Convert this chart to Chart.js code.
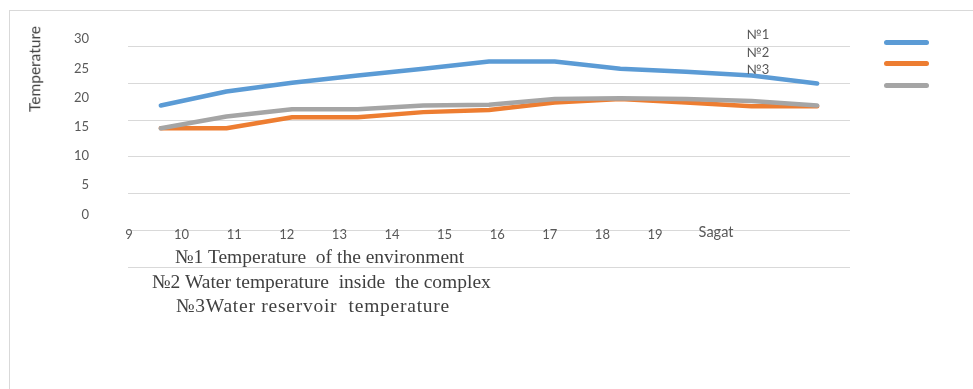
<!DOCTYPE html>
<html>
<head>
<meta charset="utf-8">
<script src="https://cdn.jsdelivr.net/npm/chart.js@4/dist/chart.umd.min.js"></script>
<style>
  body { margin: 0; background: #fff; }
  #wrap { position: relative; width: 973px; height: 389px; overflow: hidden; }
  #frame { position: absolute; left: 9px; top: 10px; width: 980px; height: 400px; border-left: 1px solid #d9d9d9; border-top: 1px solid #d9d9d9; }
  .sans { position: absolute; font-family: Lato, 'Noto Sans', sans-serif; color: #595959; white-space: pre; line-height: 1; }
  .serif { position: absolute; font-family: 'Liberation Serif', 'DejaVu Serif', serif; font-size: 19.5px; line-height: 19.5px; color: #404040; white-space: pre; }
  .swatch { position: absolute; left: 884px; width: 45px; height: 5px; border-radius: 2.5px; }
  #ytitle { left: 35px; top: 69px; font-size: 15.5px; color: #404040; transform: translate(-50%, -50%) rotate(-90deg); }
  canvas { position: absolute; left: 0; top: 0; }
</style>
</head>
<body>
<div id="wrap">
  <div id="frame"></div>
  <canvas id="chart" width="973" height="389"></canvas>
  <div id="ytitle" class="sans">Temperature</div>
  <div id="tags"></div>
  <div id="legend"></div>
  <div id="notes"></div>
</div>
<script>
// hours on the x axis
const hours = [9, 10, 11, 12, 13, 14, 15, 16, 17, 18, 19]
const xTitle = 'Sagat'
const yTicks = [0, 5, 10, 15, 20, 25, 30]

// temperatures per hour
const tempEnvironment = [22.0, 23.9, 25.1, 26.1, 27.0, 28.0, 28.0, 27.0, 26.6, 26.1, 25.0]
const tempInside = [18.9, 18.9, 20.4, 20.4, 21.1, 21.4, 22.4, 22.9, 22.4, 21.9, 21.9]
const tempReservoir = [18.9, 20.5, 21.5, 21.5, 22.0, 22.1, 22.9, 23.0, 22.9, 22.6, 22.0]

const seriesTags = ['№1', '№2', '№3']
const seriesNames = [
  '№1 Temperature  of the environment',
  '№2 Water temperature  inside  the complex',
  '№3Water reservoir  temperature'
]
const seriesColors = ['#5b9bd5', '#ed7d31', '#a5a5a5']

const tickFont = 'Lato, "Noto Sans", sans-serif'

const line = (data, i) => ({
  label: seriesTags[i],
  data,
  borderColor: seriesColors[i],
  backgroundColor: seriesColors[i],
  borderWidth: 4.5,
  borderCapStyle: 'round',
  borderJoinStyle: 'round',
  pointRadius: 0,
  tension: 0,
  fill: false,
  order: 3 - i,
  xAxisID: 'x',
  yAxisID: 'y'
})

const chart = new Chart(document.getElementById('chart'), {
  type: 'line',
  data: {
    labels: hours.map(String),
    datasets: [line(tempEnvironment, 0), line(tempInside, 1), line(tempReservoir, 2)]
  },
  options: {
    responsive: false,
    devicePixelRatio: 1,
    animation: false,
    layout: { padding: { left: 0, top: 45, right: 123, bottom: 122 } },
    plugins: { legend: { display: false }, title: { display: false }, tooltip: { enabled: false } },
    scales: {
      x: { type: 'category', offset: true, display: false },
      x2: {
        type: 'linear',
        position: { y: 5 },
        min: 8.981,
        max: 22.707,
        afterBuildTicks: scale => {
          scale.ticks = hours.map(v => ({ value: v })).concat([{ value: 20.16 }])
        },
        ticks: {
          autoSkip: false,
          maxRotation: 0,
          padding: -3.5,
          color: '#595959',
          font: ctx => ctx.index === hours.length
            ? { family: tickFont, size: 14.5, lineHeight: 0.7 }
            : { family: tickFont, size: 13 },
          callback: (v, i) => i < hours.length ? String(hours[i]) : xTitle
        },
        grid: { display: false, drawTicks: false },
        border: { display: false }
      },
      y: {
        type: 'linear',
        position: 'left',
        min: 0,
        max: 30,
        ticks: { stepSize: 5, display: false },
        grid: { color: '#d9d9d9', lineWidth: 1, drawTicks: false },
        border: { display: false },
        afterFit: scale => { scale.width = 0 }
      },
      yL: {
        type: 'linear',
        position: 'left',
        min: -9.0,
        max: 28.69,
        afterBuildTicks: scale => {
          scale.ticks = yTicks.map(v => ({ value: v }))
        },
        ticks: { autoSkip: false, padding: 39, color: '#595959', font: { family: tickFont, size: 13 } },
        grid: { display: false, drawTicks: false },
        border: { display: false },
        afterFit: scale => { scale.width = 128 }
      }
    }
  }
})

// series tags near the top right
const tagTops = [34, 52, 69]
document.getElementById('tags').innerHTML = seriesTags.map((t, i) =>
  `<div class="sans" style="left:758px;top:${tagTops[i]}px;font-size:13px;transform:translate(-50%,-50%)">${t}</div>`).join('')

// legend swatches
const swatchTops = [42, 63, 85]
document.getElementById('legend').innerHTML = seriesColors.map((c, i) =>
  `<div class="swatch" style="top:${swatchTops[i] - 2.5}px;background:${c}"></div>`).join('')

// series descriptions under the axis
const noteLefts = [175, 152, 176]
const noteTops = [247, 272, 296]
const noteSpacing = [0, 0, 0.75]
document.getElementById('notes').innerHTML = seriesNames.map((t, i) =>
  `<div class="serif" style="left:${noteLefts[i]}px;top:${noteTops[i]}px;letter-spacing:${noteSpacing[i]}px">${t}</div>`).join('')
</script>
</body>
</html>
